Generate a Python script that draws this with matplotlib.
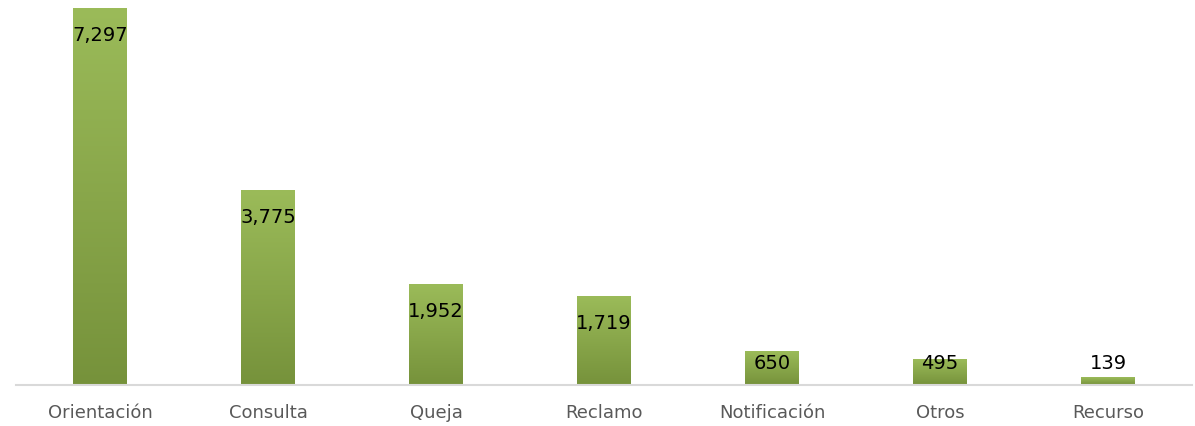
import numpy as np
import matplotlib.pyplot as plt
from matplotlib.colors import LinearSegmentedColormap

categorias = ['Orientación', 'Consulta', 'Queja', 'Reclamo', 'Notificación', 'Otros', 'Recurso']
valores = [7297, 3775, 1952, 1719, 650, 495, 139]

W, H = 1195, 427
fig = plt.figure(figsize=(W / 100, H / 100), dpi=100)
ax = fig.add_axes([16 / W, 41 / H, 1176 / W, 386 / H])

ymax = 7480
ax.set_xlim(-0.5, len(categorias) - 0.5)
ax.set_ylim(0, ymax)

grad = LinearSegmentedColormap.from_list('verde', ['#76923b', '#9bbb59'])
g = np.linspace(0, 1, 256).reshape(-1, 1)
ancho = 0.32
x = np.arange(len(categorias))
for xi, v in zip(x, valores):
    ax.imshow(g, cmap=grad, origin='lower', aspect='auto',
              extent=(xi - ancho / 2, xi + ancho / 2, 0, v), zorder=2)

# etiquetas dentro del extremo, fijadas abajo cerca del eje
k = ymax / 386.0
for xi, v in zip(x, valores):
    y = max(v - 26 * k, 22 * k)
    ax.text(xi, y, f'{v:,}', ha='center', va='center', fontsize=14,
            family='DejaVu Sans', color='black', zorder=3)

for s in ['top', 'right', 'left']:
    ax.spines[s].set_visible(False)
ax.spines['bottom'].set_color('#d9d9d9')
ax.spines['bottom'].set_linewidth(1.5)
ax.set_yticks([])
ax.set_xticks(x)
ax.set_xticklabels(categorias, fontsize=13, family='DejaVu Sans', color='#595959')
ax.tick_params(axis='x', length=0, pad=13)

fig.savefig('out.png', dpi=100)
